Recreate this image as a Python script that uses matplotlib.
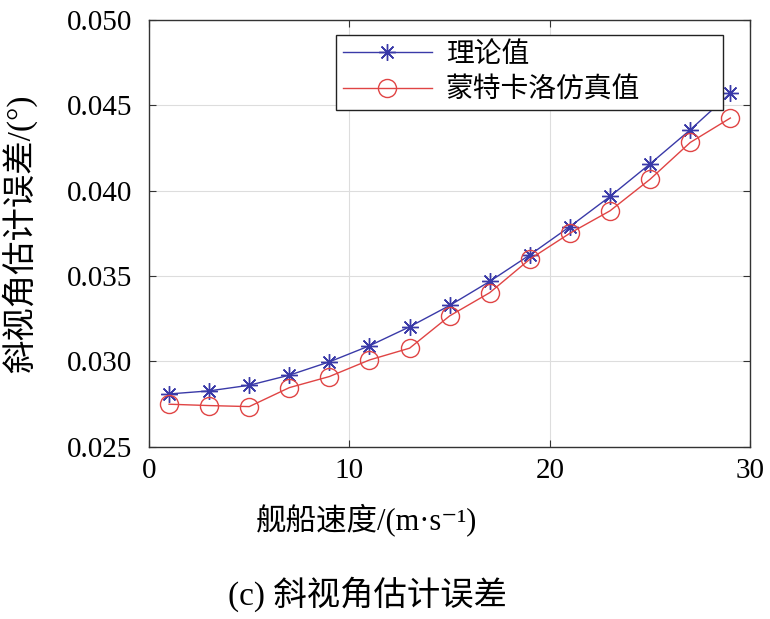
import matplotlib
matplotlib.use("Agg")
import matplotlib.pyplot as plt

plt.rcParams['font.family'] = ['Liberation Serif', 'Noto Sans CJK SC', 'DejaVu Sans']

# 舰船速度 (m/s)
speed = [1, 3, 5, 7, 9, 11, 13, 15, 17, 19, 21, 23, 25, 27, 29]
# 理论值
theory = [0.02810, 0.02828, 0.02861, 0.02920, 0.02998, 0.03092, 0.03203,
          0.03328, 0.03469, 0.03624, 0.03790, 0.03966, 0.04157, 0.04356, 0.04570]
# 蒙特卡洛仿真值
monte_carlo = [0.02750, 0.02742, 0.02736, 0.02847, 0.02912, 0.03009, 0.03078,
               0.03267, 0.03403, 0.03599, 0.03751, 0.03882, 0.04067, 0.04282, 0.04425]

xticks = [0, 10, 20, 30]
yticks = [0.025, 0.030, 0.035, 0.040, 0.045, 0.050]

fig = plt.figure(figsize=(7.7, 6.19), dpi=100)
ax = fig.add_axes([0.1935, 0.278, 0.781, 0.690])

ax.plot(speed, theory, color='#3a3aa8', lw=1.0, marker=(8, 2, 0), ms=12,
        mew=1.0, label='理论值')
ax.plot(speed, monte_carlo, color='#e04444', lw=1.0, marker='o', ms=13,
        mfc='none', mew=1.0, label='蒙特卡洛仿真值')

ax.set_xlim(0, 30)
ax.set_ylim(0.025, 0.050)
ax.set_xticks(xticks)
ax.set_yticks(yticks)
ax.set_yticklabels([f"{v:.3f}" for v in yticks])
ax.tick_params(direction='in', top=True, right=True, length=5,
               labelsize=21, color='#333333')
ax.tick_params(axis='y', pad=12)
ax.tick_params(axis='x', pad=8)
ax.grid(True, color='#dddddd', lw=0.8)
for s in ax.spines.values():
    s.set_color('#333333')
    s.set_linewidth(1.0)

ax.set_xlabel('舰船速度/(m·s⁻¹)', fontsize=22, va='top')
ax.xaxis.set_label_coords(0.361, -0.132)
ax.set_ylabel('斜视角估计误差/(°)', fontsize=24, va='center')
ax.yaxis.set_label_coords(-0.215, 0.5)

leg = ax.legend(loc='upper left', fontsize=20, frameon=True, fancybox=False,
                edgecolor='#222222', framealpha=1, borderaxespad=0.0,
                bbox_to_anchor=(0.311, 0.801, 0.644, 0.164), mode='expand',
                handlelength=3.2, handletextpad=0.5, borderpad=0.25,
                labelspacing=0.35)
leg.get_frame().set_linewidth(1.0)

fig.text(0.477, 0.012, '(c) 斜视角估计误差', fontsize=24, ha='center', va='bottom')

fig.savefig('out.png', dpi=100)
